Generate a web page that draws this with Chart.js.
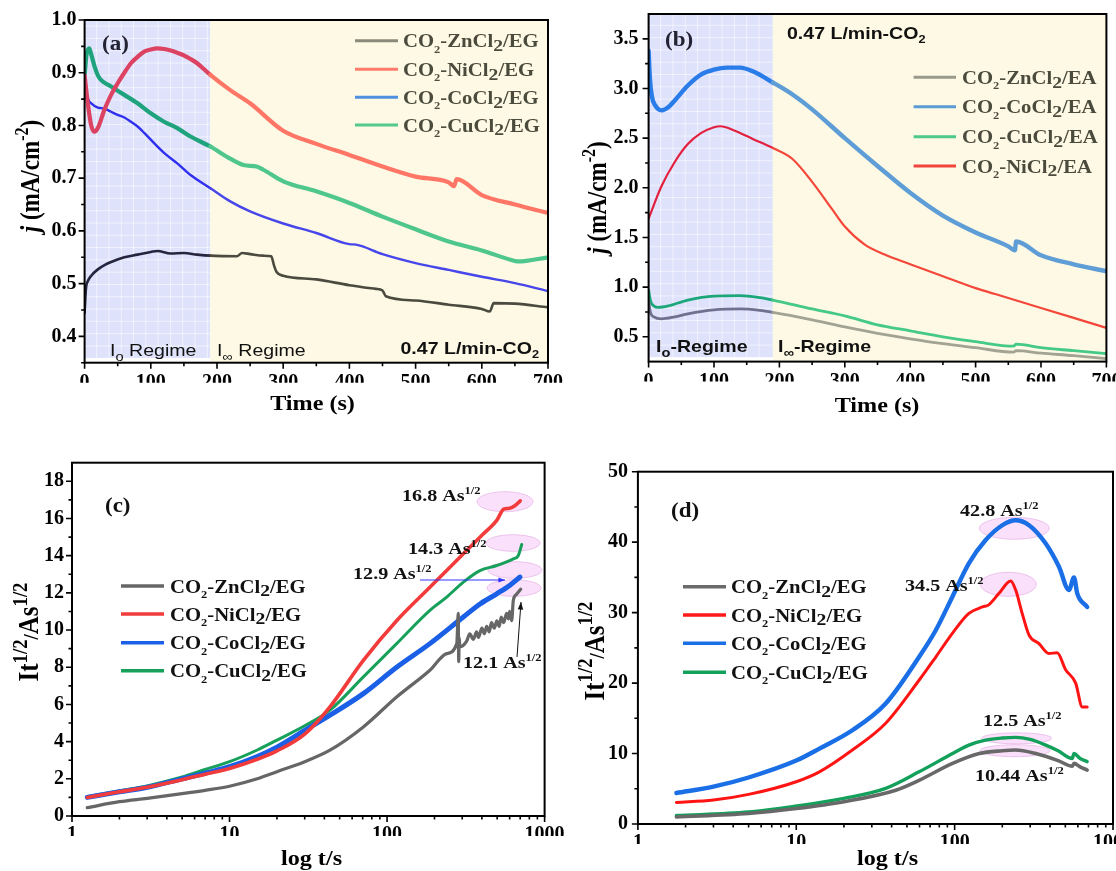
<!DOCTYPE html>
<html>
<head>
<meta charset="utf-8">
<title>Chronoamperometry CO2 / DES</title>
<script src="https://cdn.jsdelivr.net/npm/chart.js@4.4.1/dist/chart.umd.min.js"></script>
<style>
  html, body { margin: 0; padding: 0; background: #fff; }
  #wrap { position: relative; width: 1116px; height: 871px; overflow: hidden; }
  #wrap canvas { position: absolute; left: 0; top: 0; }
</style>
</head>
<body>
<div id="wrap">
  <canvas id="pa" width="1116" height="871"></canvas>
  <canvas id="pb" width="1116" height="871"></canvas>
  <canvas id="pc" width="1116" height="871"></canvas>
  <canvas id="pd" width="1116" height="871"></canvas>
</div>
<script>
const SERIF = "'Liberation Serif', 'Times New Roman', serif";
const SANS = "'Liberation Sans', Arial, sans-serif";
const REGIME_END = 190;

// (a) chronoamperometry, EG based, j in mA/cm2 vs time (s)
const aTimeZn = [0, 2, 5, 10, 20, 30, 40, 60, 80, 100, 110, 130, 150, 170, 190, 230, 238, 250, 270, 282, 286, 290, 300, 350, 400, 440, 450, 455, 500, 550, 600, 612, 618, 650, 700];
const aZn = [0.445, 0.49, 0.505, 0.515, 0.527, 0.535, 0.541, 0.55, 0.555, 0.56, 0.562, 0.557, 0.558, 0.555, 0.553, 0.552, 0.558, 0.556, 0.553, 0.552, 0.535, 0.522, 0.515, 0.508, 0.497, 0.49, 0.487, 0.476, 0.468, 0.46, 0.452, 0.447, 0.463, 0.462, 0.455];
const aTimeNi = [0, 5, 10, 15, 20, 30, 40, 50, 60, 70, 80, 90, 100, 110, 120, 130, 140, 150, 160, 170, 180, 190, 220, 250, 300, 350, 400, 450, 500, 550, 558, 562, 600, 650, 700];
const aNi = [0.895, 0.84, 0.8, 0.788, 0.795, 0.83, 0.858, 0.88, 0.9, 0.918, 0.93, 0.94, 0.944, 0.946, 0.945, 0.942, 0.938, 0.933, 0.926, 0.918, 0.907, 0.896, 0.867, 0.842, 0.79, 0.765, 0.744, 0.722, 0.703, 0.692, 0.685, 0.698, 0.668, 0.65, 0.634];
const aTimeCo = [0, 3, 6, 10, 20, 30, 40, 50, 60, 70, 80, 90, 100, 120, 140, 160, 190, 220, 250, 300, 350, 400, 410, 450, 500, 550, 600, 650, 700];
const aCo = [0.885, 0.86, 0.848, 0.842, 0.834, 0.832, 0.826, 0.82, 0.815, 0.807, 0.798, 0.786, 0.773, 0.748, 0.728, 0.706, 0.681, 0.656, 0.637, 0.614, 0.596, 0.575, 0.574, 0.556, 0.539, 0.526, 0.513, 0.501, 0.486];
const aTimeCu = [0, 3, 7, 10, 15, 20, 25, 40, 60, 80, 100, 120, 140, 160, 190, 220, 240, 260, 270, 300, 350, 400, 450, 500, 550, 600, 650, 655, 700];
const aCu = [0.895, 0.935, 0.946, 0.935, 0.912, 0.895, 0.886, 0.874, 0.858, 0.842, 0.823, 0.807, 0.795, 0.779, 0.76, 0.737, 0.725, 0.722, 0.716, 0.694, 0.675, 0.653, 0.627, 0.603, 0.58, 0.563, 0.543, 0.542, 0.55];

// (b) EA based
const bTimeZn = [0, 3, 8, 20, 40, 60, 100, 140, 170, 190, 250, 300, 350, 400, 450, 500, 558, 562, 600, 650, 700];
const bZn = [0.86, 0.74, 0.70, 0.68, 0.70, 0.73, 0.77, 0.78, 0.765, 0.745, 0.67, 0.6, 0.535, 0.48, 0.43, 0.39, 0.345, 0.36, 0.335, 0.31, 0.28];
const bTimeCo = [0, 2, 5, 10, 15, 20, 30, 40, 60, 80, 100, 120, 140, 160, 190, 220, 250, 300, 350, 400, 450, 500, 550, 560, 562, 600, 650, 700];
const bCo = [3.38, 3.1, 2.92, 2.83, 2.79, 2.78, 2.81, 2.88, 3.03, 3.14, 3.19, 3.21, 3.21, 3.17, 3.06, 2.94, 2.79, 2.5, 2.22, 1.95, 1.72, 1.55, 1.41, 1.37, 1.46, 1.32, 1.23, 1.16];
const bTimeCu = [0, 3, 8, 15, 30, 60, 100, 140, 170, 190, 250, 300, 350, 400, 450, 500, 558, 562, 600, 650, 700];
const bCu = [0.97, 0.86, 0.81, 0.795, 0.81, 0.87, 0.91, 0.915, 0.895, 0.87, 0.78, 0.71, 0.62, 0.56, 0.5, 0.45, 0.405, 0.425, 0.39, 0.36, 0.33];
const bTimeNi = [0, 20, 40, 60, 80, 100, 110, 130, 160, 190, 220, 250, 280, 300, 330, 360, 400, 450, 500, 530, 600, 650, 700];
const bNi = [1.69, 2.02, 2.26, 2.44, 2.55, 2.61, 2.62, 2.58, 2.49, 2.40, 2.29, 2.06, 1.79, 1.61, 1.43, 1.33, 1.23, 1.11, 0.99, 0.93, 0.79, 0.69, 0.59];

// (c) It^1/2 vs log t, EG
const cTimeZn = [1.25, 2, 3, 5, 7, 10, 15, 20, 30, 43.4, 70.7, 115, 187, 239, 277, 283, 285, 287, 290, 320, 335, 353, 370, 380, 400, 415, 429, 445, 460, 480, 497, 515, 530, 550, 574, 590, 600, 618, 633, 660, 705];
const cZn = [0.45, 0.77, 0.95, 1.2, 1.38, 1.6, 2.0, 2.38, 2.92, 3.54, 4.79, 6.4, 7.84, 8.73, 9.27, 10.9, 8.3, 9.6, 9.09, 9.4, 9.8, 9.5, 9.9, 9.6, 10.1, 9.8, 10.2, 9.9, 10.4, 10.1, 10.5, 10.2, 10.7, 10.4, 10.9, 10.6, 11.0, 10.5, 11.6, 11.9, 12.2];
const cTimeNi = [1.25, 2, 3, 5, 7, 10, 15, 20, 30, 43.4, 70.7, 115, 187, 305, 400, 497, 550, 600, 650, 700];
const cNi = [1.0, 1.3, 1.55, 1.95, 2.25, 2.56, 3.05, 3.5, 4.4, 5.87, 8.37, 10.5, 12.3, 14.1, 15.1, 15.9, 16.5, 16.55, 16.7, 16.95];
const cTimeCo = [1.25, 2, 3, 5, 7, 10, 15, 20, 30, 43.4, 70.7, 115, 187, 305, 389, 497, 600, 698];
const cCo = [1.0, 1.3, 1.55, 2.0, 2.3, 2.65, 3.2, 3.7, 4.6, 5.42, 6.58, 8.0, 9.27, 10.7, 11.4, 11.95, 12.4, 12.85];
const cTimeCu = [1.25, 2, 3, 5, 7, 10, 15, 20, 30, 43.4, 70.7, 115, 187, 239, 305, 389, 497, 633, 680, 716];
const cCu = [1.05, 1.35, 1.62, 2.1, 2.5, 2.92, 3.55, 4.08, 4.85, 5.69, 7.48, 9.27, 11.06, 11.77, 12.58, 13.2, 13.47, 13.83, 14.0, 14.6];

// (d) It^1/2 vs log t
const dTimeZn = [1.75, 5, 10, 20, 42.5, 59.6, 97, 143, 200, 243, 325, 450, 553, 567, 620, 687];
const dZn = [1.0, 1.5, 2.2, 3.17, 4.8, 6.2, 8.6, 10.0, 10.4, 10.5, 10.0, 9.0, 8.2, 8.6, 8.1, 7.66];
const dTimeNi = [1.75, 3, 5, 10, 14, 22.6, 36.7, 59.6, 76, 97, 123, 150, 164, 190, 226, 243, 267, 295, 341, 394, 444, 502, 581, 640, 687];
const dNi = [3.05, 3.4, 4.2, 6.0, 7.4, 10.5, 14.3, 20.4, 23.7, 27.1, 29.9, 30.8, 31.1, 32.7, 34.5, 33.2, 29.9, 26.8, 25.6, 24.2, 24.3, 21.9, 20.0, 16.6, 16.6];
const dTimeCo = [1.75, 3, 5, 10, 14, 22.6, 36.7, 59.6, 76, 97, 123, 157, 200, 243, 295, 376, 456, 527, 567, 595, 687];
const dCo = [4.4, 5.3, 6.6, 9.0, 10.7, 13.3, 17.1, 23.7, 27.5, 32.3, 37.0, 40.3, 42.4, 43.1, 42.4, 39.8, 36.5, 33.2, 35.0, 32.7, 30.8];
const dTimeCu = [1.75, 5, 10, 20, 36.7, 59.6, 97, 123, 157, 200, 243, 300, 376, 450, 553, 567, 620, 687];
const dCu = [1.2, 1.7, 2.55, 3.64, 5.06, 7.4, 10.0, 11.2, 11.9, 12.2, 12.3, 12.0, 11.2, 10.4, 9.3, 10.0, 9.3, 8.85];

// tick values
const timeTicks = [0, 100, 200, 300, 400, 500, 600, 700];
const timeMinor = [50, 150, 250, 350, 450, 550, 650];
const aYTicks = [0.4, 0.5, 0.6, 0.7, 0.8, 0.9, 1.0];
const aYMinor = [0.35, 0.45, 0.55, 0.65, 0.75, 0.85, 0.95];
const bYTicks = [0.5, 1.0, 1.5, 2.0, 2.5, 3.0, 3.5];
const bYMinor = [0.75, 1.25, 1.75, 2.25, 2.75, 3.25];
const cYTicks = [0, 2, 4, 6, 8, 10, 12, 14, 16, 18];
const cYMinor = [1, 3, 5, 7, 9, 11, 13, 15, 17];
const dYTicks = [0, 10, 20, 30, 40, 50];
const dYMinor = [5, 15, 25, 35, 45];
const logTicks = [1, 10, 100, 1000];
const logMinor = [2, 3, 4, 5, 6, 7, 8, 9, 20, 30, 40, 50, 60, 70, 80, 90, 200, 300, 400, 500, 600, 700, 800, 900];

const pts = (ts, vs) => ts.map((t, i) => ({ x: t, y: vs[i] }));

function line(label, ts, vs, color, width, inColor) {
  const ds = { label, data: pts(ts, vs), borderColor: color, borderWidth: width, pointRadius: 0,
    cubicInterpolationMode: 'monotone', fill: false };
  if (inColor) ds.segment = { borderColor: c => (c.p0.parsed.x < REGIME_END ? inColor : color) };
  return ds;
}

function axis(pos, type, min, max, major, pad, fmt) {
  return {
    type, min, max, position: pos,
    grid: { display: false, drawTicks: false }, border: { display: false },
    ticks: { autoSkip: false, maxRotation: 0, padding: pad, color: '#000',
      font: { family: SERIF, weight: 'bold', size: 20 }, callback: fmt },
    afterBuildTicks: s => { s.ticks = major.map(v => ({ value: v })); },
    afterFit: s => {
      if (pos === 'left') s.width = 60; else s.height = 20;
      s.paddingLeft = s.paddingRight = s.paddingTop = s.paddingBottom = 0;
    }
  };
}

// rich text with sub/superscripts; the figure is slightly stretched horizontally
function rich(ctx, x, y, parts, o) {
  const size = o.size, fam = o.family || SERIF, wt = o.weight || 'bold';
  ctx.save();
  ctx.translate(x, y);
  ctx.scale(o.sx == null ? 1.15 : o.sx, 1);
  if (o.rotate) ctx.rotate(o.rotate);
  ctx.fillStyle = o.color || '#000';
  ctx.textBaseline = 'alphabetic';
  ctx.textAlign = 'left';
  const segs = parts.map(p => {
    const [t, s = 1, dy = 0, st = 'normal'] = Array.isArray(p) ? p : [p];
    const font = `${st} ${wt} ${size * s}px ${fam}`;
    ctx.font = font;
    return { t, font, dy: dy * size, w: ctx.measureText(t).width };
  });
  const total = segs.reduce((a, g) => a + g.w, 0);
  let cx = o.align === 'center' ? -total / 2 : o.align === 'right' ? -total : 0;
  segs.forEach(g => { ctx.font = g.font; ctx.fillText(g.t, cx, g.dy); cx += g.w; });
  ctx.restore();
}

const legendName = (m, s) => ['CO', ['2', 0.6, 0.3], '-' + m + 'Cl', ['2', 0.95, 0.22], '/' + s];
const asHalf = v => [v + ' As', ['1/2', 0.62, -0.42]];
const jTitle = [['j', 1, 0, 'italic'], ' (mA/cm', ['-2', 0.7, -0.4], ')'];
const itTitle = ['It', ['1/2', 0.75, -0.4], ['/', 0.75, 0], 'As', ['1/2', 0.75, -0.4]];
const flow = ['0.47 L/min-CO', ['2', 0.65, 0.25]];

const decorCfg = {
  pa: {
    bands: [{ from: 0, to: REGIME_END, bottom: 0.359, color: '#dfe2fb', grid: true },
            { from: REGIME_END, to: 700, color: '#fdf9e4' }],
    ticks: { x: [timeTicks, timeMinor], y: [aYTicks, aYMinor] },
    legend: { x0: 355, x1: 398, tx: 403, ys: [40.7, 69.3, 97.3, 125], color: '#4b4b3d', w: 3,
      items: [['#8a8a7a', legendName('Zn', 'EG')], ['#ff7b6b', legendName('Ni', 'EG')],
              ['#4f8fe0', legendName('Co', 'EG')], ['#55c98a', legendName('Cu', 'EG')]] },
    texts: [
      { x: 102, y: 50, parts: ['(a)'], size: 20, color: '#222233' },
      { x: 539, y: 354, parts: flow, size: 17, family: SANS, align: 'right', color: '#111' },
      { x: 110, y: 356, parts: ['I', ['o', 0.75, 0.3], ' Regime'], size: 17, family: SANS, weight: 'normal', color: '#111' },
      { x: 217, y: 356, parts: ['I', ['\u221e', 0.75, 0.3], ' Regime'], size: 17, family: SANS, weight: 'normal', color: '#111' },
      { x: 312.5, y: 410, parts: ['Time (s)'], size: 21, align: 'center' },
      { x: 39, y: 176, parts: jTitle, size: 23, align: 'center', rotate: -Math.PI / 2 }
    ]
  },
  pb: {
    bands: [{ from: 0, to: REGIME_END, bottom: 0.295, color: '#dfe2fb', grid: true },
            { from: REGIME_END, to: 700, color: '#fdf9e4' }],
    ticks: { x: [timeTicks, timeMinor], y: [bYTicks, bYMinor] },
    legend: { x0: 913.6, x1: 956, tx: 962, ys: [77.3, 106.7, 136.7, 166], color: '#4b4b3d', w: 3,
      items: [['#9a9a8c', legendName('Zn', 'EA')], ['#5b9bd5', legendName('Co', 'EA')],
              ['#4dc98a', legendName('Cu', 'EA')], ['#f0453a', legendName('Ni', 'EA')]] },
    texts: [
      { x: 665, y: 46, parts: ['(b)'], size: 20, color: '#222233' },
      { x: 787, y: 39, parts: flow, size: 17, family: SANS, color: '#111' },
      { x: 656, y: 352, parts: ['I', ['o', 0.75, 0.3], '-Regime'], size: 17, family: SANS, color: '#111' },
      { x: 778, y: 352, parts: ['I', ['\u221e', 0.75, 0.3], '-Regime'], size: 17, family: SANS, color: '#111' },
      { x: 877, y: 412, parts: ['Time (s)'], size: 21, align: 'center' },
      { x: 606, y: 197.5, parts: jTitle, size: 23, align: 'center', rotate: -Math.PI / 2 }
    ]
  },
  pc: {
    ellipses: [[505, 501.7, 28, 10], [513, 543, 27, 8.3], [515, 570, 27, 8.3], [514, 588, 27, 8.3]],
    ticks: { x: [logTicks, logMinor], y: [cYTicks, cYMinor] },
    legend: { x0: 121, x1: 164, tx: 170, ys: [586, 614, 642.7, 670.7], color: '#111', w: 3.5,
      items: [['#666666', legendName('Zn', 'EG')], ['#f23b3b', legendName('Ni', 'EG')],
              ['#1a5fe6', legendName('Co', 'EG')], ['#17a05a', legendName('Cu', 'EG')]] },
    arrows: [{ from: [420, 580], to: [505, 580], color: '#3333ff', head: 7 },
             { from: [517, 657], to: [521, 602], color: '#111', head: 8 }],
    texts: [
      { x: 105, y: 512, parts: ['(c)'], size: 20, color: '#111' },
      { x: 402, y: 501, parts: asHalf('16.8'), size: 17.5, color: '#111' },
      { x: 408, y: 554, parts: asHalf('14.3'), size: 17.5, color: '#111' },
      { x: 353, y: 579, parts: asHalf('12.9'), size: 17.5, color: '#111' },
      { x: 463, y: 668, parts: asHalf('12.1'), size: 17.5, color: '#111' },
      { x: 311.5, y: 865, parts: ['log t/s'], size: 21, align: 'center' },
      { x: 38, y: 632, parts: itTitle, size: 25, align: 'center', rotate: -Math.PI / 2 }
    ]
  },
  pd: {
    ellipses: [[1014.3, 528.3, 35, 11], [1008.3, 584.3, 28, 12], [1016.7, 738.3, 35, 5.5], [1015, 750.7, 35, 6]],
    ticks: { x: [logTicks, logMinor], y: [dYTicks, dYMinor] },
    legend: { x0: 683, x1: 726, tx: 731, ys: [586.7, 615, 643.3, 672.3], color: '#111', w: 3.5,
      items: [['#6a6a6a', legendName('Zn', 'EG')], ['#ff1a1a', legendName('Ni', 'EG')],
              ['#1a6fe6', legendName('Co', 'EG')], ['#12a05a', legendName('Cu', 'EG')]] },
    texts: [
      { x: 671, y: 517, parts: ['(d)'], size: 20, color: '#111' },
      { x: 960, y: 516, parts: asHalf('42.8'), size: 17.5, color: '#111' },
      { x: 905, y: 591, parts: asHalf('34.5'), size: 17.5, color: '#111' },
      { x: 983, y: 726, parts: asHalf('12.5'), size: 17.5, color: '#111' },
      { x: 975, y: 781, parts: asHalf('10.44'), size: 17.5, color: '#111' },
      { x: 887.5, y: 865, parts: ['log t/s'], size: 21, align: 'center' },
      { x: 603.5, y: 651, parts: itTitle, size: 25, align: 'center', rotate: -Math.PI / 2 }
    ]
  }
};

const decor = {
  id: 'decor',
  beforeDatasetsDraw(chart) {
    const cfg = decorCfg[chart.canvas.id];
    const { ctx, chartArea: ca } = chart;
    const xs = chart.scales.x, ys = chart.scales.y;
    ctx.save();
    (cfg.bands || []).forEach(b => {
      const x0 = xs.getPixelForValue(b.from), x1 = xs.getPixelForValue(b.to);
      const y1 = b.bottom == null ? ca.bottom : ys.getPixelForValue(b.bottom);
      ctx.fillStyle = b.color;
      ctx.fillRect(x0, ca.top, x1 - x0, y1 - ca.top);
      if (b.grid) {
        ctx.strokeStyle = 'rgba(255,255,255,0.55)';
        ctx.lineWidth = 1;
        ctx.beginPath();
        for (let gx = x0 + 12; gx < x1 - 3; gx += 12.3) { ctx.moveTo(gx, ca.top); ctx.lineTo(gx, y1); }
        for (let gy = y1 - 12; gy > ca.top + 3; gy -= 12.3) { ctx.moveTo(x0, gy); ctx.lineTo(x1, gy); }
        ctx.stroke();
      }
    });
    (cfg.ellipses || []).forEach(([cx, cy, rx, ry]) => {
      ctx.beginPath();
      ctx.ellipse(cx, cy, rx, ry, 0, 0, Math.PI * 2);
      ctx.fillStyle = 'rgba(246,204,246,0.6)';
      ctx.fill();
      ctx.strokeStyle = 'rgba(228,176,228,0.7)';
      ctx.lineWidth = 1;
      ctx.stroke();
    });
    ctx.restore();
  },
  afterDraw(chart) {
    const cfg = decorCfg[chart.canvas.id];
    const { ctx, chartArea: ca } = chart;
    const xs = chart.scales.x, ys = chart.scales.y;
    ctx.save();
    // outward tick marks
    ctx.strokeStyle = '#000';
    ctx.lineWidth = 1.6;
    ctx.beginPath();
    const [xMaj, xMin] = cfg.ticks.x, [yMaj, yMin] = cfg.ticks.y;
    xMaj.forEach(v => { const p = xs.getPixelForValue(v); ctx.moveTo(p, ca.bottom); ctx.lineTo(p, ca.bottom + 6); });
    xMin.forEach(v => { const p = xs.getPixelForValue(v); ctx.moveTo(p, ca.bottom); ctx.lineTo(p, ca.bottom + 3.5); });
    yMaj.forEach(v => { const p = ys.getPixelForValue(v); ctx.moveTo(ca.left, p); ctx.lineTo(ca.left - 6, p); });
    yMin.forEach(v => { const p = ys.getPixelForValue(v); ctx.moveTo(ca.left, p); ctx.lineTo(ca.left - 3.5, p); });
    ctx.stroke();
    ctx.lineWidth = 2;
    ctx.strokeRect(ca.left, ca.top, ca.right - ca.left, ca.bottom - ca.top);

    // arrows
    (cfg.arrows || []).forEach(a => {
      const [x0, y0] = a.from, [x1, y1] = a.to;
      const ang = Math.atan2(y1 - y0, x1 - x0);
      ctx.strokeStyle = a.color; ctx.fillStyle = a.color; ctx.lineWidth = 1;
      ctx.beginPath(); ctx.moveTo(x0, y0); ctx.lineTo(x1, y1); ctx.stroke();
      ctx.beginPath();
      ctx.moveTo(x1, y1);
      ctx.lineTo(x1 - a.head * Math.cos(ang - 0.35), y1 - a.head * Math.sin(ang - 0.35));
      ctx.lineTo(x1 - a.head * Math.cos(ang + 0.35), y1 - a.head * Math.sin(ang + 0.35));
      ctx.closePath(); ctx.fill();
    });

    // legend
    const lg = cfg.legend;
    lg.items.forEach(([color, parts], i) => {
      const yy = lg.ys[i];
      ctx.strokeStyle = color; ctx.lineWidth = lg.w;
      ctx.beginPath(); ctx.moveTo(lg.x0, yy); ctx.lineTo(lg.x1, yy); ctx.stroke();
      rich(ctx, lg.tx, yy + 6.5, parts, { size: 18, color: lg.color });
    });

    cfg.texts.forEach(t => rich(ctx, t.x, t.y, t.parts, t));
    ctx.restore();
  }
};

function makeChart(id, datasets, xAx, yAx, pad) {
  return new Chart(document.getElementById(id), {
    type: 'line',
    data: { datasets },
    options: {
      responsive: false, animation: false, devicePixelRatio: 1, events: [],
      layout: { padding: pad },
      plugins: { legend: { display: false }, tooltip: { enabled: false } },
      elements: { line: { borderJoinStyle: 'round', borderCapStyle: 'round' } },
      scales: { x: xAx, y: yAx }
    },
    plugins: [decor]
  });
}

const fix1 = v => Number(v).toFixed(1);
const plain = v => String(v);

makeChart('pa', [
  line('CO2-ZnCl2/EG', aTimeZn, aZn, '#4a4a3f', 2.6, '#25253f'),
  line('CO2-NiCl2/EG', aTimeNi, aNi, '#ff7666', 4.2, '#dc4262'),
  line('CO2-CoCl2/EG', aTimeCo, aCo, '#4646ea', 2.4, '#2f2ff0'),
  line('CO2-CuCl2/EG', aTimeCu, aCu, '#4fc78c', 4.2, '#1ea37c')
], axis('bottom', 'linear', 0, 700, timeTicks, 8, plain),
   axis('left', 'linear', 0.35, 1.0, aYTicks, 8, fix1),
   { left: 24.6, top: 20, right: 568, bottom: 488.3 });

makeChart('pb', [
  line('CO2-ZnCl2/EA', bTimeZn, bZn, '#a3a394', 2.8, '#707090'),
  line('CO2-CoCl2/EA', bTimeCo, bCo, '#5f9dd6', 4.4, '#2a7de9'),
  line('CO2-CuCl2/EA', bTimeCu, bCu, '#45c987', 2.8, '#1ca77a'),
  line('CO2-NiCl2/EA', bTimeNi, bNi, '#f4473a', 2.2, '#e3213f')
], axis('bottom', 'linear', 0, 700, timeTicks, 8, plain),
   axis('left', 'linear', 0.25, 3.75, bYTicks, 10, fix1),
   { left: 588.6, top: 14, right: 9.6, bottom: 489.4 });

makeChart('pc', [
  line('CO2-ZnCl2/EG', cTimeZn, cZn, '#666666', 3.2),
  line('CO2-NiCl2/EG', cTimeNi, cNi, '#f23b3b', 3.6),
  line('CO2-CoCl2/EG', cTimeCo, cCo, '#1a5fe6', 5),
  line('CO2-CuCl2/EG', cTimeCu, cCu, '#17a05a', 3)
], axis('bottom', 'logarithmic', 1, 1000, logTicks, 7, plain),
   axis('left', 'linear', 0, 19, cYTicks, 8, plain),
   { left: 12, top: 462.7, right: 571.4, bottom: 35 });

makeChart('pd', [
  line('CO2-ZnCl2/EG', dTimeZn, dZn, '#686868', 3.6),
  line('CO2-NiCl2/EG', dTimeNi, dNi, '#ff1414', 3),
  line('CO2-CoCl2/EG', dTimeCo, dCo, '#1a6fe6', 4.4),
  line('CO2-CuCl2/EG', dTimeCu, dCu, '#12a05a', 3.4)
], axis('bottom', 'logarithmic', 1, 1000, logTicks, 7, plain),
   axis('left', 'linear', 0, 50, dYTicks, 10, plain),
   { left: 577.9, top: 471.7, right: 3, bottom: 27 });
</script>
</body>
</html>
